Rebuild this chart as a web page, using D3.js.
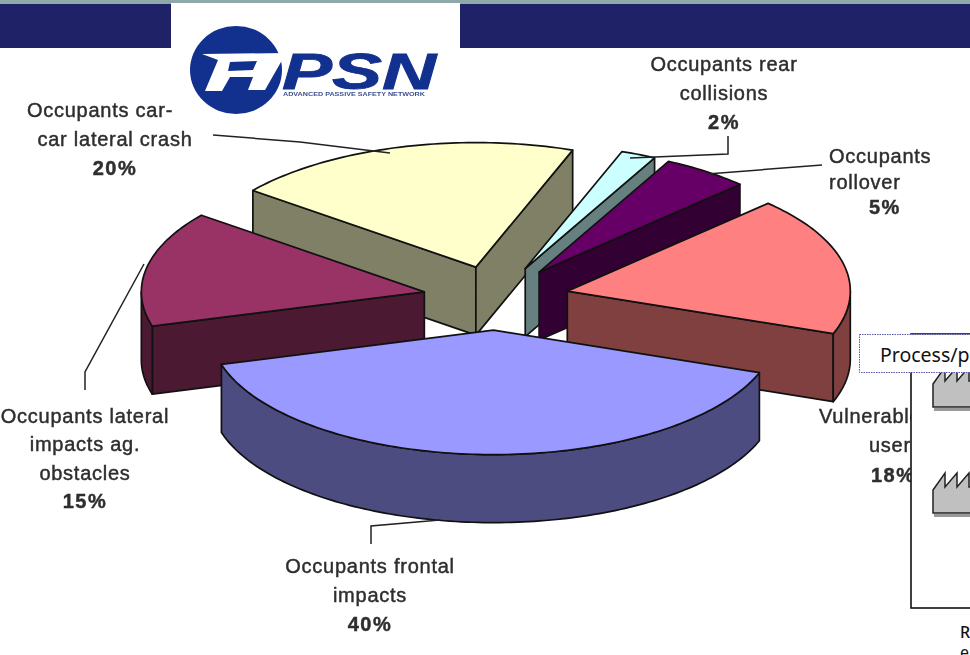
<!DOCTYPE html>
<html>
<head>
<meta charset="utf-8">
<style>
  html, body { margin: 0; padding: 0; background: #fff; }
  svg { display: block; }
  .lbl { font-family: "Liberation Sans", Arial, sans-serif; font-size: 20px; fill: #2e2e2e; stroke: #2e2e2e; stroke-width: 0.45px; }
  .soft { filter: blur(0.35px); }
</style>
<script src="https://cdn.jsdelivr.net/npm/d3@7"></script>
</head>
<body>
<svg id="chart" width="970" height="655"></svg>
<script>
// values, clockwise from the rear collisions slice
const categories = ["Occupants rear collisions", "Occupants rollover", "Vulnerable users",
  "Occupants frontal impacts", "Occupants lateral impacts ag. obstacles", "Occupants car-car lateral crash"];
const values = [2, 5, 18, 40, 15, 20];
const topColors = ["#CCFFFF", "#660066", "#FF8080", "#9999FF", "#993366", "#FFFFCC"];
const sideColors = ["#668080", "#330033", "#804040", "#4C4C80", "#4C1933", "#808066"];
const labelLines = [
  ["Occupants rear", "collisions", "2%"],
  ["Occupants", "rollover", "5%"],
  ["Vulnerable", "users", "18%"],
  ["Occupants frontal", "impacts", "40%"],
  ["Occupants lateral", "impacts ag.", "obstacles", "15%"],
  ["Occupants car-", "car lateral crash", "20%"]
];

const WIDTH = 970, HEIGHT = 655;
const CX = 496, CY = 298;   // pie centre before the slices are pulled out
const RX = 283, TILT = 0.44; // ellipse squash
const DEPTH = 68;           // thickness of the pie
const EXPLODE = 73;         // how far every slice is pulled out
const START = 20 * Math.PI / 180;

// where the text of each slice goes: x, anchor and a baseline per line
const labelPos = [
  { x: [724, 724, 724], anchor: "middle", y: [71, 100, 129] },
  { x: [829, 829, 869], anchor: "start", y: [163, 189, 214] },
  { x: [819, 869, 871], anchor: "start", y: [423, 452, 482] },
  { x: [370, 370, 370], anchor: "middle", y: [573, 602, 631] },
  { x: [85, 85, 85, 85], anchor: "middle", y: [423, 451, 480, 508] },
  { x: [100, 115, 115], anchor: "middle", y: [117, 146, 175] }
];
const leaders = [
  [[728, 136], [728, 154], [630, 158]],
  [[822, 165], [707, 174]],
  [],
  [[371, 544], [371, 526], [440, 520]],
  [[85, 390], [85, 372], [144, 264]],
  [[213, 135], [300, 142], [390, 153]]
];

const svg = d3.select("#chart");
const line = d3.line();

svg.append("rect").attr("width", WIDTH).attr("height", HEIGHT).attr("fill", "#fff");

// title bar with the logo block cut into it
svg.append("rect").attr("x", 0).attr("y", 4).attr("width", WIDTH).attr("height", 44).attr("fill", "#1F2266");
svg.append("rect").attr("x", 0).attr("y", 0).attr("width", WIDTH).attr("height", 4).attr("fill", "#8FA9AB");
svg.append("rect").attr("x", 171).attr("y", 3).attr("width", 289).attr("height", 46).attr("fill", "#fff");

// logo
const LOGO_BLUE = "#12318F";
const logo = svg.append("g").attr("class", "soft");
logo.append("ellipse").attr("cx", 236).attr("cy", 70).attr("rx", 46).attr("ry", 44).attr("fill", LOGO_BLUE);
const logoA = [[202, 54], [285, 53], [281, 62], [265, 90], [248, 90], [253, 77], [230, 77], [222, 91], [205, 91], [218, 60]];
const logoHole = [[230, 62], [257, 61], [253, 70], [228, 71]];
logo.append("path").attr("d", line(logoA) + "Z" + line(logoHole) + "Z")
  .attr("fill", "#fff").attr("fill-rule", "evenodd");
logo.append("text").attr("transform", "translate(282,89) scale(1.5,1)")
  .attr("font-family", "Liberation Sans").attr("font-weight", "bold").attr("font-style", "italic")
  .attr("font-size", 50).attr("fill", LOGO_BLUE).attr("stroke", LOGO_BLUE).attr("stroke-width", 0.8).text("PSN");
logo.append("text").attr("x", 283).attr("y", 96).attr("textLength", 142).attr("lengthAdjust", "spacingAndGlyphs")
  .attr("font-family", "Liberation Sans").attr("font-weight", "bold")
  .attr("font-size", 6).attr("fill", "#3a4f90").text("ADVANCED PASSIVE SAFETY NETWORK");

// d3 gives the angles, clockwise from 12 o'clock
const pie = d3.pie().sort(null).startAngle(START).endAngle(START + 2 * Math.PI);
const slices = pie(values).map((s, i) => {
  const mid = (s.startAngle + s.endAngle) / 2;
  return {
    i: i, a0: s.startAngle, a1: s.endAngle,
    ax: CX + EXPLODE * Math.sin(mid),
    ay: CY - EXPLODE * Math.cos(mid) * TILT
  };
});

function rim(s, a, dz) {
  return [s.ax + RX * Math.sin(a), s.ay - RX * TILT * Math.cos(a) + (dz || 0)];
}
function arcPts(s, a0, a1, dz) {
  const n = Math.max(2, Math.ceil((a1 - a0) / 0.02));
  return d3.range(n + 1).map(k => rim(s, a0 + (a1 - a0) * k / n, dz));
}

// back slices first so the front ones overlap them
const order = [5, 0, 1, 4, 2, 3];
const pieG = svg.append("g").attr("class", "soft");
const face = (g, pts, fill) => g.append("path").attr("d", line(pts) + "Z")
  .attr("fill", fill).attr("stroke", "#111").attr("stroke-width", 1.7).attr("stroke-linejoin", "round");

order.forEach(idx => {
  const s = slices[idx];
  const g = pieG.append("g").attr("class", "slice");
  const side = sideColors[idx];
  const apex = [s.ax, s.ay], apexLow = [s.ax, s.ay + DEPTH];

  // radial walls, only those turned to the viewer
  if (Math.sin(s.a0) < 0) {
    face(g, [apex, rim(s, s.a0), rim(s, s.a0, DEPTH), apexLow], side);
  }
  if (Math.sin(s.a1) > 0) {
    face(g, [apex, rim(s, s.a1), rim(s, s.a1, DEPTH), apexLow], side);
  }
  // outer wall, the part that lies in the front half
  const w0 = Math.max(s.a0, Math.PI / 2), w1 = Math.min(s.a1, 3 * Math.PI / 2);
  if (w1 > w0) {
    face(g, arcPts(s, w0, w1, 0).concat(arcPts(s, w0, w1, DEPTH).reverse()), side);
  }
  face(g, [apex].concat(arcPts(s, s.a0, s.a1, 0)), topColors[idx]);
});

// leader lines
leaders.forEach(pts => {
  if (!pts.length) return;
  svg.append("path").attr("class", "soft").attr("d", line(pts)).attr("fill", "none").attr("stroke", "#222").attr("stroke-width", 1.5);
});

// labels
labelLines.forEach((lines, i) => {
  const p = labelPos[i];
  lines.forEach((t, k) => {
    svg.append("text").attr("class", "lbl soft")
      .attr("x", p.x[k]).attr("y", p.y[k])
      .attr("text-anchor", p.anchor)
      .attr("font-weight", t.endsWith("%") ? "bold" : "normal")
      .attr("letter-spacing", t.endsWith("%") ? 1.5 : 0.75)
      .text(t);
  });
});

// slide content lying over the chart on the right
const inset = svg.append("g");
inset.append("rect").attr("x", 911).attr("y", 334).attr("width", 70).attr("height", 274)
  .attr("fill", "#fff").attr("stroke", "#111").attr("stroke-width", 1.6);

function factory(x, y) {
  const pts = [[x, y + 17], [x + 12, y], [x + 12, y + 14], [x + 24, y], [x + 24, y + 14], [x + 36, y], [x + 36, y + 14], [x + 60, y + 14], [x + 60, y + 40], [x, y + 40]];
  inset.append("rect").attr("x", x + 1).attr("y", y + 41).attr("width", 60).attr("height", 3).attr("fill", "#999");
  inset.append("path").attr("d", line(pts) + "Z").attr("fill", "#C0C0C0").attr("stroke", "#222").attr("stroke-width", 1.5);
}
factory(933, 367);
factory(933, 473);

inset.append("rect").attr("x", 859.5).attr("y", 334.5).attr("width", 130).attr("height", 38)
  .attr("fill", "#fff").attr("stroke", "#5555aa").attr("stroke-width", 1).attr("stroke-dasharray", "1.5,1");
inset.append("text").attr("x", 880).attr("y", 362)
  .attr("font-family", "Noto Sans").attr("font-size", 19.5).attr("fill", "#111").text("Process/p");
inset.append("text").attr("x", 960).attr("y", 638)
  .attr("font-family", "Noto Sans").attr("font-size", 16).attr("font-weight", 500).attr("fill", "#111").text("R");
inset.append("text").attr("x", 960).attr("y", 658)
  .attr("font-family", "Noto Sans").attr("font-size", 16).attr("fill", "#111").text("e");
</script>
</body>
</html>
